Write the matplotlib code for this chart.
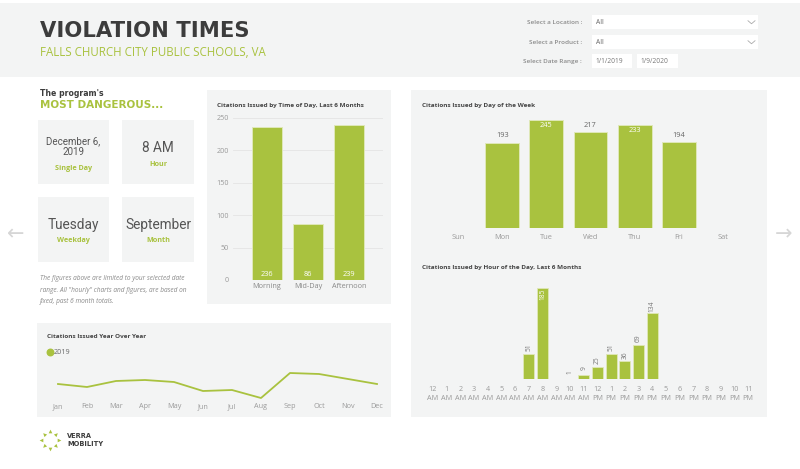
import matplotlib
matplotlib.use('Agg')
import matplotlib.pyplot as plt
from matplotlib.patches import Rectangle
from matplotlib.markers import MarkerStyle
from matplotlib.transforms import Affine2D
import numpy as np

plt.rcParams['font.family'] = ['Open Sans', 'DejaVu Sans']

# ---------------- data ----------------
tod_cats = ['Morning', 'Mid-Day', 'Afternoon']
tod_vals = [236, 86, 239]
tod_ticks = [0, 50, 100, 150, 200, 250]

dow_cats = ['Sun', 'Mon', 'Tue', 'Wed', 'Thu', 'Fri', 'Sat']
dow_vals = [0, 193, 245, 217, 233, 194, 0]

hour_labels = ['12\nAM', '1\nAM', '2\nAM', '3\nAM', '4\nAM', '5\nAM', '6\nAM', '7\nAM',
               '8\nAM', '9\nAM', '10\nAM', '11\nAM', '12\nPM', '1\nPM', '2\nPM', '3\nPM',
               '4\nPM', '5\nPM', '6\nPM', '7\nPM', '8\nPM', '9\nPM', '10\nPM', '11\nPM']
hour_vals = [0, 0, 0, 0, 0, 0, 0, 51, 185, 0, 1, 9, 25, 51, 36, 69, 134,
             0, 0, 0, 0, 0, 0, 0]

months = ['Jan', 'Feb', 'Mar', 'Apr', 'May', 'Jun', 'Jul', 'Aug', 'Sep', 'Oct', 'Nov', 'Dec']
yoy_2019 = [72, 66, 78, 80, 76, 58, 60, 44, 94, 92, 82, 72]

# ---------------- style ----------------
GREEN = '#a9c23f'
EDGE = '#dfe8b8'
PANEL = '#f3f4f4'
DARK = '#3c3c3c'
GRAY = '#9a9a9a'
W, H = 800, 469

fig = plt.figure(figsize=(W / 100, H / 100), dpi=100)
bg = fig.add_axes([0, 0, 1, 1], zorder=0)
bg.set_xlim(0, W)
bg.set_ylim(H, 0)
bg.axis('off')


def rect(x0, y0, x1, y1, color=PANEL, **kw):
    bg.add_patch(Rectangle((x0, y0), x1 - x0, y1 - y0, facecolor=color, edgecolor='none', **kw))


def add_ax(x0, y0, x1, y1):
    ax = fig.add_axes([x0 / W, 1 - y1 / H, (x1 - x0) / W, (y1 - y0) / H], zorder=2)
    ax.set_facecolor('none')
    for s in ax.spines.values():
        s.set_visible(False)
    return ax


# header
rect(0, 3, 800, 77)
bg.text(40, 31, 'VIOLATION TIMES', fontsize=15.2, fontweight='bold', color=DARK,
        family='DejaVu Sans', va='center', ha='left')
bg.text(40, 52, 'FALLS CHURCH CITY PUBLIC SCHOOLS, VA', fontsize=8.3, color=GREEN,
        va='center', ha='left')

# filters
for y, lab in [(22, 'Select a Location :'), (42, 'Select a Product :'), (61.5, 'Select Date Range :')]:
    bg.text(582, y, lab, fontsize=4.6, color='#8a8a8a', fontweight='semibold', ha='right', va='center')
for y0, y1 in [(15, 29.5), (35, 49.5)]:
    rect(592, y0, 758, y1, color='white')
    bg.text(596, (y0 + y1) / 2, 'All', fontsize=4.8, color='#666666', va='center')
    yc = (y0 + y1) / 2
    bg.plot([748, 751.5, 755], [yc - 1.5, yc + 1.5, yc - 1.5], color='#aaaaaa', lw=0.6)
for x0, x1, lab in [(592, 632, '1/1/2019'), (637, 678, '1/9/2020')]:
    rect(x0, 54.5, x1, 68.5, color='white')
    bg.text(x0 + 3.5, 61.5, lab, fontsize=4.8, color='#777777', va='center')

# left section
bg.text(40, 93, "The program's", fontsize=5.6, fontweight='bold', color=DARK,
        family='DejaVu Sans', va='center')
bg.text(40, 105, 'MOST DANGEROUS...', fontsize=7.5, fontweight='bold', color=GREEN,
        family='DejaVu Sans', va='center')

cards = [
    (38, 120, 109, 184, 'December 6,\n2019', 7.0, 147, 'Single Day', 168),
    (122, 120, 194, 184, '8 AM', 9.8, 148, 'Hour', 164),
    (38, 197, 109, 262, 'Tuesday', 9.8, 225, 'Weekday', 241),
    (122, 197, 194, 262, 'September', 9.8, 225, 'Month', 241),
]
for x0, y0, x1, y1, big, fs, yb, small, ys in cards:
    rect(x0, y0, x1, y1)
    xc = (x0 + x1) / 2
    bg.text(xc, yb, big, fontsize=fs, color='#555555', ha='center', va='center',
            family=['Roboto', 'DejaVu Sans'], linespacing=1.1)
    bg.text(xc, ys, small, fontsize=5.2, color=GREEN, fontweight='bold', ha='center',
            va='center')

note = ('The figures above are limited to your selected date\n'
        'range. All "hourly" charts and figures, are based on\n'
        'fixed, past 6 month totals.')
bg.text(40, 290, note, fontsize=4.7, color='#8a8a8a', style='italic', ha='left', va='center',
        linespacing=1.95)

# side arrows
bg.text(16, 234, '\u2190', fontsize=15, color='#d6d6d6', ha='center', va='center',
        family='DejaVu Sans')
bg.text(784, 234, '\u2192', fontsize=15, color='#d6d6d6', ha='center', va='center',
        family='DejaVu Sans')

# panels
rect(207, 90, 391, 304)
rect(411, 90, 767, 417)
rect(37, 323, 391, 417)

TITLE_KW = dict(fontsize=4.6, fontweight='bold', color='#444444', ha='left', va='center')
bg.text(217, 105, 'Citations Issued by Time of Day, Last 6 Months', **TITLE_KW)
bg.text(422, 105, 'Citations Issued by Day of the Week', **TITLE_KW)
bg.text(422, 268, 'Citations Issued by Hour of the Day, Last 6 Months', **TITLE_KW)
bg.text(47, 336, 'Citations Issued Year Over Year', **TITLE_KW)

# ---------- Time of day chart ----------
ax1 = add_ax(233, 118, 383, 280)
x = np.arange(len(tod_cats))
ax1.bar(x, tod_vals, width=0.73, color=GREEN, edgecolor=EDGE, linewidth=0.7, zorder=3)
ax1.set_xlim(-0.83, 2.83)
ax1.set_ylim(0, 250)
ax1.set_yticks(tod_ticks)
ax1.set_xticks(x)
ax1.set_xticklabels(tod_cats)
ax1.grid(axis='y', color='#e4e4e4', lw=0.6, zorder=0)
ax1.tick_params(length=0, labelsize=5.2, labelcolor=GRAY)
ax1.tick_params(axis='x', pad=2.5, labelcolor='#888888')
ax1.tick_params(axis='y', pad=3)
for xi, v in zip(x, tod_vals):
    ax1.text(xi, 8, str(v), ha='center', va='center', color='white', fontsize=5.3, zorder=4)

# ---------- Day of week chart ----------
ax2 = add_ax(436, 113.4, 745, 228)
x2 = np.arange(len(dow_cats))
ax2.bar(x2, dow_vals, width=0.77, color=GREEN, edgecolor=EDGE, linewidth=0.7, zorder=3)
ax2.set_xlim(-0.5, 6.5)
ax2.set_ylim(0, 260)
ax2.set_yticks([])
ax2.set_xticks(x2)
ax2.set_xticklabels(dow_cats)
ax2.tick_params(length=0, labelsize=5.3, labelcolor=GRAY, pad=4.5)
for xi, v in zip(x2, dow_vals):
    if v <= 0:
        continue
    if v > 225:
        ax2.text(xi, v - 12, str(v), ha='center', va='center', color='white', fontsize=5.3, zorder=4)
    else:
        ax2.text(xi, v + 16, str(v), ha='center', va='center', color='#666666', fontsize=5.3, zorder=4)

# ---------- Hour chart ----------
ax3 = add_ax(426, 280.6, 755, 379)
x3 = np.arange(len(hour_labels))
ax3.bar(x3, hour_vals, width=0.8, color=GREEN, edgecolor=EDGE, linewidth=0.6, zorder=3)
ax3.set_xlim(-0.5, 23.5)
ax3.set_ylim(0, 200)
ax3.set_yticks([])
ax3.set_xticks(x3)
ax3.set_xticklabels(hour_labels, linespacing=1.35)
ax3.tick_params(length=0, labelsize=5.2, labelcolor=GRAY, pad=5)
for xi, v in zip(x3, hour_vals):
    if v <= 0:
        continue
    if v > 170:
        ax3.text(xi, v - 12, str(v), ha='center', va='center', rotation=90, color='white',
                 fontsize=4.8, zorder=4)
    else:
        ax3.text(xi, v + 13, str(v), ha='center', va='center', rotation=90, color='#777777',
                 fontsize=4.8, zorder=4)

# ---------- Year over year ----------
ax4 = add_ax(58, 365, 377, 400)
x4 = np.arange(len(months))
ax4.plot(x4, yoy_2019, color=GREEN, lw=1.3, zorder=3, clip_on=False)
ax4.set_xlim(0, 11)
ax4.set_ylim(40, 110)
ax4.set_yticks([])
ax4.set_xticks(x4)
ax4.set_xticklabels(months)
ax4.tick_params(length=0, labelsize=5.2, labelcolor=GRAY, pad=2.5)
bg.scatter([50], [352], s=22, color=GREEN, zorder=3)
bg.text(54, 352, '2019', fontsize=5.2, color='#666666', va='center', ha='left')

# ---------- logo ----------
cx, cy, r = 50, 440, 9
for ang in range(0, 360, 45):
    a = np.deg2rad(ang)
    px, py = cx + r * np.cos(a), cy + r * np.sin(a)
    m = MarkerStyle('^', transform=Affine2D().rotate_deg(-ang - 90))
    bg.scatter([px], [py], marker=m, s=7, color=GREEN, zorder=3, linewidths=0)
bg.text(67, 436, 'VERRA', fontsize=4.8, fontweight='bold', color=DARK, va='center',
        family='DejaVu Sans')
bg.text(67, 444, 'MOBILITY', fontsize=4.8, fontweight='bold', color=DARK, va='center',
        family='DejaVu Sans')

fig.savefig('out.png', dpi=100, facecolor='white')
